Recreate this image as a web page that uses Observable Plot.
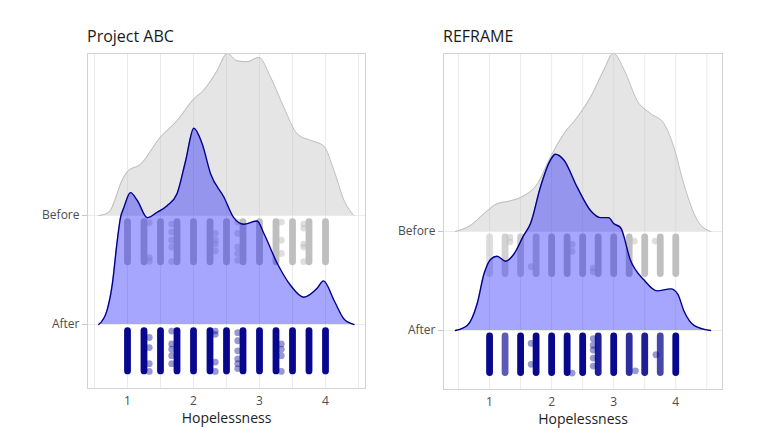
<!DOCTYPE html>
<html>
<head>
<meta charset="utf-8">
<script src="https://cdn.jsdelivr.net/npm/d3@7"></script>
<script src="https://cdn.jsdelivr.net/npm/@observablehq/plot@0.6"></script>
<style>
  body { margin: 0; background: #ffffff; }
  #wrap { position: relative; width: 778px; height: 441px; font-family: "Open Sans", sans-serif; overflow: hidden; }
  .ttl { position: absolute; top: 28px; font-size: 16px; line-height: 16px; color: #1a1a1a; }
</style>
</head>
<body>
<div id="wrap">
  <div class="ttl" style="left:87px">Project ABC</div>
  <div class="ttl" style="left:443px">REFRAME</div>
</div>
<script>
// ---------- data ----------
const groupTicks = [0, 1];               // After = 0, Before = 1
const groupNames = ["After", "Before"];
const xTicks = [1, 2, 3, 4];
const gridValues = [0.5, 1, 1.5, 2, 2.5, 3, 3.5, 4, 4.5];
const colX = [1, 1.25, 1.5, 1.75, 2, 2.25, 2.5, 2.75, 3, 3.25, 3.5, 3.75, 4];

// Project ABC densities (ridge heights, in row units)
const abcBeforeDensX = [0.565, 0.65, 0.74, 0.82, 0.894, 0.995, 1.197, 1.5, 1.753, 2.005, 2.156, 2.359, 2.51, 2.66, 2.81, 2.99, 3.167, 3.37, 3.57, 3.77, 3.97, 4.13, 4.28, 4.43];
const abcBeforeDensY = [0, 0.01, 0.046, 0.16, 0.29, 0.40, 0.47, 0.72, 0.87, 1.07, 1.15, 1.33, 1.486, 1.42, 1.41, 1.45, 1.27, 0.99, 0.75, 0.69, 0.64, 0.41, 0.14, 0];
const abcAfterDensX = [0.565, 0.69, 0.77, 0.845, 0.894, 0.944, 1.045, 1.147, 1.30, 1.45, 1.60, 1.75, 1.88, 2.005, 2.13, 2.26, 2.46, 2.61, 2.76, 2.965, 3.07, 3.27, 3.47, 3.67, 3.87, 3.97, 4.13, 4.28, 4.43];
const abcAfterDensY = [0, 0.13, 0.37, 0.77, 0.98, 1.07, 1.21, 1.14, 0.98, 1.03, 1.09, 1.20, 1.50, 1.80, 1.66, 1.38, 1.17, 0.98, 0.92, 0.95, 0.83, 0.56, 0.36, 0.25, 0.33, 0.40, 0.22, 0.05, 0];

// REFRAME densities
const refBeforeDensX = [0.45, 0.69, 0.91, 1.12, 1.34, 1.55, 1.77, 1.98, 2.20, 2.41, 2.63, 2.84, 2.995, 3.17, 3.38, 3.60, 3.81, 3.97, 4.13, 4.35, 4.56];
const refBeforeDensY = [0, 0.06, 0.18, 0.28, 0.31, 0.36, 0.48, 0.75, 0.99, 1.15, 1.36, 1.63, 1.80, 1.63, 1.32, 1.19, 1.09, 0.85, 0.48, 0.11, 0];
const refAfterDensX = [0.45, 0.64, 0.80, 0.91, 1.02, 1.12, 1.26, 1.39, 1.55, 1.66, 1.82, 1.98, 2.06, 2.20, 2.41, 2.63, 2.79, 2.92, 3.00, 3.11, 3.27, 3.49, 3.70, 3.92, 4.03, 4.13, 4.30, 4.56];
const refAfterDensY = [0, 0.05, 0.27, 0.57, 0.72, 0.75, 0.70, 0.77, 0.96, 1.08, 1.45, 1.72, 1.78, 1.72, 1.45, 1.21, 1.14, 1.14, 1.08, 1.04, 0.71, 0.51, 0.40, 0.42, 0.37, 0.20, 0.05, 0];

// approximate respondents per answer value (dense columns of jittered points)
const abcBeforeCounts = [40, 40, 40, 40, 40, 40, 40, 40, 40, 40, 40, 40, 40];
const abcAfterCounts  = [40, 40, 40, 40, 40, 40, 40, 40, 40, 40, 40, 40, 40];
const refBeforeCounts = [6, 10, 12, 15, 40, 40, 40, 40, 40, 30, 40, 40, 40];
const refAfterCounts  = [40, 12, 40, 40, 40, 40, 40, 25, 40, 20, 25, 15, 40];

// isolated points: [value, vertical jitter within the rain band 0..1]
const abcBeforeExtra = [[1.33,0.02],[1.33,0.88],[1.33,0.97],[1.67,0.05],[1.67,0.25],[1.67,0.45],[1.67,0.62],[1.67,0.98],[2.33,0.28],[2.33,0.45],[2.33,0.55],[2.33,0.72],[2.67,0.0],[2.67,0.28],[2.67,0.62],[2.67,0.78],[2.67,0.95],[3.33,0.0],[3.33,0.45],[3.33,0.78],[3.67,0.05],[3.67,0.15],[3.67,0.55],[3.67,0.62],[3.67,0.98]];
const abcAfterExtra = [[1.33,0.16],[1.33,0.41],[1.33,0.81],[1.33,1.0],[1.67,0.0],[1.67,0.32],[1.67,0.45],[1.67,0.61],[1.67,0.81],[2.33,0.0],[2.33,0.08],[2.33,0.77],[2.33,1.0],[2.67,0.04],[2.67,0.24],[2.67,0.49],[2.67,0.69],[2.67,0.81],[2.67,0.93],[3.33,0.32],[3.33,0.45],[3.33,0.61],[3.33,1.0]];
const refBeforeExtra = [[1.33,0.0],[1.33,0.12],[1.67,0.8],[2.33,0.19],[2.33,0.38],[2.67,0.84],[2.67,0.94],[3.33,0.1],[3.67,0.1]];
const refAfterExtra = [[1.67,0.19],[1.67,0.76],[2.33,1.0],[2.67,0.06],[2.67,0.24],[2.67,0.37],[2.67,0.59],[2.67,0.81],[3.35,0.94],[3.68,0.5]];

// ---------- drawing ----------
const GREY = "#bebebe", BLUE = "#0000ff", DARKBLUE = "#00008b";
const ALPHA_GREY = 0.5, ALPHA_BLUE = 0.4;
const BAND_TOP = 0.06, BAND_LEN = 0.37;

function dens(xs, ys, base) { return xs.map((x, i) => ({x, y1: base, y2: base + ys[i]})); }
function cols(counts, base) { return colX.map((x, i) => ({x, n: counts[i], y1: base - BAND_TOP, y2: base - BAND_TOP - BAND_LEN})); }
function pts(extra, base) { return extra.map(([x, f]) => ({x, y: base - BAND_TOP - f * BAND_LEN})); }
function colOpacity(alpha) { return d => 1 - Math.pow(1 - alpha, d.n / 6); }

function panel(cfg) {
  const bD = dens(cfg.bx, cfg.by, 1), aD = dens(cfg.ax, cfg.ay, 0);
  return Plot.plot({
    width: cfg.width, height: 441,
    marginLeft: cfg.ml, marginRight: cfg.mr, marginTop: 53, marginBottom: cfg.mb,
    x: {domain: cfg.xdom},
    y: {domain: cfg.ydom},
    style: {fontFamily: "Open Sans", fontSize: "12px", color: "#4d4d4d", background: "transparent"},
    marks: [
      Plot.ruleX(gridValues, {stroke: "#ebebeb", strokeWidth: 1}),
      Plot.ruleY(groupTicks, {stroke: "#ebebeb", strokeWidth: 1}),
      Plot.areaY(bD, {x: "x", y1: "y1", y2: "y2", fill: GREY, fillOpacity: 0.4, curve: "monotone-x"}),
      Plot.lineY(bD, {x: "x", y: "y2", stroke: "#bdbdbd", strokeWidth: 1, curve: "monotone-x"}),
      Plot.ruleX(cols(cfg.bc, 1), {x: "x", y1: "y1", y2: "y2", stroke: GREY, strokeOpacity: colOpacity(ALPHA_GREY), strokeWidth: 6.8, strokeLinecap: "round"}),
      Plot.dot(pts(cfg.be, 1), {x: "x", y: "y", r: 3.4, fill: GREY, fillOpacity: ALPHA_GREY, stroke: null}),
      Plot.areaY(aD, {x: "x", y1: "y1", y2: "y2", fill: BLUE, fillOpacity: 0.35, curve: "monotone-x"}),
      Plot.lineY(aD, {x: "x", y: "y2", stroke: DARKBLUE, strokeWidth: 1.4, curve: "monotone-x"}),
      Plot.ruleX(cols(cfg.ac, 0), {x: "x", y1: "y1", y2: "y2", stroke: DARKBLUE, strokeOpacity: colOpacity(ALPHA_BLUE), strokeWidth: 6.8, strokeLinecap: "round"}),
      Plot.dot(pts(cfg.ae, 0), {x: "x", y: "y", r: 3.4, fill: DARKBLUE, fillOpacity: ALPHA_BLUE, stroke: null}),
      Plot.frame({stroke: "#d2d2d2", strokeWidth: 1}),
      Plot.axisX({ticks: xTicks, tickFormat: d => String(d), tickSize: 0, tickPadding: 8, label: null, fill: "#4d4d4d", fontSize: 12}),
      Plot.axisY({ticks: groupTicks, tickFormat: d => groupNames[d], tickSize: 5, tickPadding: 3, label: null, stroke: "#c8c8c8", fill: "#4d4d4d", fontSize: 12}),
      Plot.text(["Hopelessness"], {text: d => d, frameAnchor: "bottom", dy: 30, fontSize: 14, fill: "#222222", lineAnchor: "middle"})
    ]
  });
}

const wrap = document.getElementById("wrap");
const left = panel({width: 390, ml: 87, mr: 25, mb: 53, xdom: [0.394, 4.606], ydom: [-0.587, 2.486],
  bx: abcBeforeDensX, by: abcBeforeDensY, ax: abcAfterDensX, ay: abcAfterDensY,
  bc: abcBeforeCounts, ac: abcAfterCounts, be: abcBeforeExtra, ae: abcAfterExtra});
const right = panel({width: 388, ml: 53, mr: 56, mb: 52, xdom: [0.258, 4.753], ydom: [-0.596, 2.798],
  bx: refBeforeDensX, by: refBeforeDensY, ax: refAfterDensX, ay: refAfterDensY,
  bc: refBeforeCounts, ac: refAfterCounts, be: refBeforeExtra, ae: refAfterExtra});
left.style.position = "absolute"; left.style.left = "0px"; left.style.top = "0px";
right.style.position = "absolute"; right.style.left = "390px"; right.style.top = "0px";
wrap.appendChild(left);
wrap.appendChild(right);
</script>
</body>
</html>
